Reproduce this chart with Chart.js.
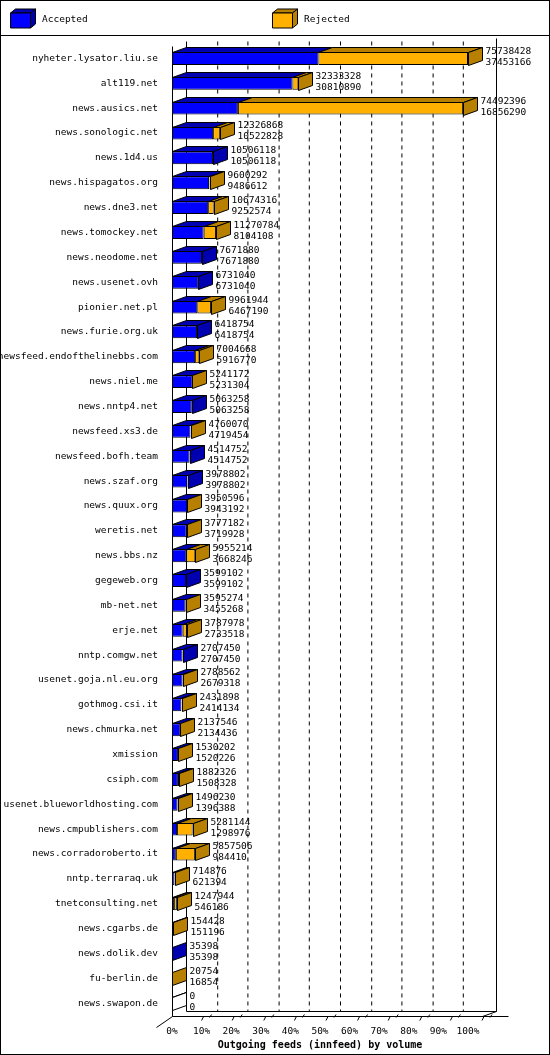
<!DOCTYPE html>
<html><head><meta charset="utf-8">
<script src="https://cdn.jsdelivr.net/npm/chart.js@4"></script>
<style>html,body{margin:0;padding:0;background:#fff}canvas{display:block}</style>
</head><body>
<div style="width:550px;height:1055px"><canvas id="c" width="550" height="1055"></canvas></div>
<script>
const hosts = ["nyheter.lysator.liu.se","alt119.net","news.ausics.net","news.sonologic.net","news.1d4.us","news.hispagatos.org","news.dne3.net","news.tomockey.net","news.neodome.net","news.usenet.ovh","pionier.net.pl","news.furie.org.uk","newsfeed.endofthelinebbs.com","news.niel.me","news.nntp4.net","newsfeed.xs3.de","newsfeed.bofh.team","news.szaf.org","news.quux.org","weretis.net","news.bbs.nz","gegeweb.org","mb-net.net","erje.net","nntp.comgw.net","usenet.goja.nl.eu.org","gothmog.csi.it","news.chmurka.net","xmission","csiph.com","usenet.blueworldhosting.com","news.cmpublishers.com","news.corradoroberto.it","nntp.terraraq.uk","tnetconsulting.net","news.cgarbs.de","news.dolik.dev","fu-berlin.de","news.swapon.de"];
const offered = [75738428,32333328,74492396,12326868,10506118,9600292,10674316,11270784,7671880,6731040,9961944,6418754,7004668,5241172,5063258,4760070,4514752,3978802,3950596,3777182,5955214,3599102,3595274,3787978,2707450,2788562,2431898,2137546,1530202,1882326,1496230,5281144,5857506,714876,1247944,154428,35398,20754,0];
const accepted = [37453166,30810890,16856290,10522828,10506118,9486612,9252574,8104108,7671880,6731040,6467190,6418754,5916770,5231304,5063258,4719454,4514752,3978802,3943192,3719928,3668246,3599102,3455268,2733518,2707450,2679318,2414134,2134436,1520226,1508328,1396388,1298976,984410,621394,546186,151196,35398,16854,0];
const tickLabels = ["0%","10%","20%","30%","40%","50%","60%","70%","80%","90%","100%"];
const rejected = offered.map((t,i)=>t-accepted[i]);
const maxV = Math.max(...offered);
const DX=14, DY=5;
const BLUE="#0000ff", DBLUE="#0000b0", ORG="#ffb000", DORG="#b88000";
const FONT="9.5px 'DejaVu Sans Mono', monospace";

function poly(ctx, pts, fill){
  ctx.beginPath(); ctx.moveTo(pts[0][0],pts[0][1]);
  for(let i=1;i<pts.length;i++) ctx.lineTo(pts[i][0],pts[i][1]);
  ctx.closePath(); if(fill){ctx.fillStyle=fill;ctx.fill();}
  ctx.strokeStyle="#000"; ctx.lineWidth=1; ctx.stroke();
}

const deco = {
  id:'deco',
  beforeDatasetsDraw(chart){
    const ctx=chart.ctx, a=chart.chartArea, x=chart.scales.x;
    ctx.save();
    ctx.fillStyle="#fff"; 
    // legend
    ctx.strokeStyle="#000"; ctx.lineWidth=1;
    ctx.beginPath(); ctx.moveTo(0,35.5); ctx.lineTo(550,35.5); ctx.stroke();
    const lg=[[10,BLUE,DBLUE,"Accepted"],[272,ORG,DORG,"Rejected"]];
    lg.forEach(([lx,c,d,t])=>{
      const y0=13,y1=28,x0=lx+0.5,x1=lx+20.5;
      poly(ctx,[[x0,y0],[x1,y0],[x1+5,y0-4],[x0+5,y0-4]],d);
      poly(ctx,[[x1,y0],[x1+5,y0-4],[x1+5,y1-4],[x1,y1]],d);
      poly(ctx,[[x0,y0],[x1,y0],[x1,y1],[x0,y1]],c);
      ctx.fillStyle="#000"; ctx.font=FONT; ctx.textBaseline="middle"; ctx.textAlign="left";
      ctx.fillText(t,lx+32,20);
    });
    // walls
    const L=Math.round(a.left)+0.5, B=Math.round(a.bottom)+0.5, T=Math.round(a.top)-4.5;
    const R=Math.round(x.getPixelForValue(maxV))+0.5;
    ctx.beginPath();
    ctx.moveTo(L,T+DY); ctx.lineTo(L,B);
    ctx.moveTo(L+DX,T); ctx.lineTo(L+DX,B-DY);
    ctx.moveTo(L,B); ctx.lineTo(R+DX+26,B);
    ctx.moveTo(L+DX,B-DY); ctx.lineTo(R+DX+14,B-DY); ctx.lineTo(R+DX,B);
    ctx.moveTo(L-16,B+DY+6); ctx.lineTo(L,B); 
    ctx.moveTo(R+DX+14,T-3); ctx.lineTo(R+DX+14,B-DY);
    ctx.stroke();
    ctx.setLineDash([4,4]);
    for(let k=1;k<10;k++){
      const gx=Math.round(x.getPixelForValue(maxV*k/10))+DX+0.5+k*1.2;
      ctx.beginPath(); ctx.moveTo(gx,T); ctx.lineTo(gx,B-DY); ctx.stroke();
    }
    ctx.setLineDash([]);
    for(let k=1;k<=10;k++){
      const gx=Math.round(x.getPixelForValue(maxV*k/10))+k*1.6;
      ctx.beginPath(); ctx.moveTo(gx-2,B+4); ctx.lineTo(gx,B); ctx.moveTo(gx+6,B+1);ctx.lineTo(gx+8,B-2);ctx.stroke();
    }
    ctx.restore();
  },
  afterDatasetsDraw(chart){
    const ctx=chart.ctx, m0=chart.getDatasetMeta(0), m1=chart.getDatasetMeta(1);
    ctx.save();
    hosts.forEach((h,i)=>{
      const b=m0.data[i], o=m1.data[i];
      const top=Math.round(b.y-b.height/2)+0.5, bot=Math.round(b.y+b.height/2)+0.5;
      const x0=Math.round(b.base)+0.5, xb=Math.round(b.x)+0.5, xe=Math.round(o.x)+0.5;
      const empty=offered[i]===0;
      if(xb>x0) poly(ctx,[[x0,top],[xb,top],[xb+DX,top-DY],[x0+DX,top-DY]],DBLUE);
      if(xe>xb) poly(ctx,[[xb,top],[xe,top],[xe+DX,top-DY],[xb+DX,top-DY]],DORG);
      if(empty) poly(ctx,[[x0,top],[xe,top],[xe+DX,top-DY],[x0+DX,top-DY]],"#fff");
      const sc=empty?"#fff":(rejected[i]>0?DORG:DBLUE);
      poly(ctx,[[xe,top],[xe+DX,top-DY],[xe+DX,bot-DY],[xe,bot]],sc);
      ctx.fillStyle="#000"; ctx.font=FONT; ctx.textAlign="left"; ctx.textBaseline="middle";
      ctx.fillText(String(offered[i]),xe+DX+3,b.y-7);
      ctx.fillText(String(accepted[i]),xe+DX+3,b.y+4);
    });
    ctx.restore();
  },
  afterDraw(chart){
    const ctx=chart.ctx; ctx.save(); ctx.strokeStyle="#000"; ctx.lineWidth=1;
    ctx.strokeRect(0.5,0.5,549,1054); ctx.restore();
  }
};

new Chart(document.getElementById('c'),{
  type:'bar',
  data:{labels:hosts,datasets:[
    {label:'Accepted',data:accepted,backgroundColor:BLUE,borderColor:"#000",borderWidth:1,borderSkipped:false},
    {label:'Rejected',data:rejected,backgroundColor:ORG,borderColor:"#000",borderWidth:1,borderSkipped:false}
  ]},
  options:{
    indexAxis:'y',responsive:false,animation:false,
    layout:{padding:{top:46,right:82,bottom:4,left:0}},
    datasets:{bar:{barPercentage:0.52,categoryPercentage:1}},
    plugins:{legend:{display:false},tooltip:{enabled:false}},
    scales:{
      x:{stacked:true,min:0,max:maxV,grid:{display:false},border:{display:false},
        afterBuildTicks(s){s.ticks=tickLabels.map((t,k)=>({value:maxV*k/10}));},
        ticks:{color:"#000",font:{family:"'DejaVu Sans Mono', monospace",size:9.5},padding:2,maxRotation:0,autoSkip:false,
          callback:(v,k)=>tickLabels[k]},
        title:{display:true,text:"Outgoing feeds (innfeed) by volume",color:"#000",padding:{top:0,bottom:0},
          font:{family:"'DejaVu Sans Mono', monospace",size:10,weight:'bold'}}},
      y:{stacked:true,grid:{display:false},border:{display:false},
        afterFit(s){s.width=172;},
        ticks:{color:"#000",font:{family:"'DejaVu Sans Mono', monospace",size:9.5},padding:6,autoSkip:false}}
    }
  },
  plugins:[deco]
});
</script>
</body></html>
